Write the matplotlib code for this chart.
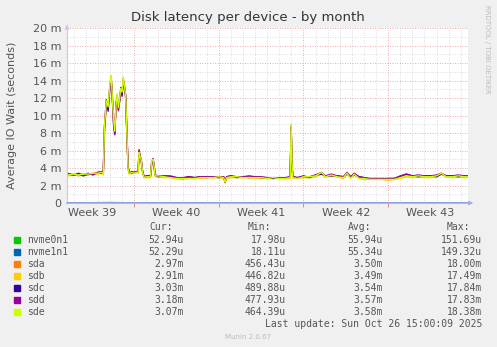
import matplotlib
matplotlib.use("Agg")
import matplotlib.pyplot as plt
from matplotlib.ticker import FixedLocator

# time in days relative to Mon Sep 29 2025 00:00, values in milliseconds
days = [-5.5, -5.0, -4.6, -4.2, -3.8, -3.4, -3.0, -2.7, -2.55, -2.45,
        -2.3, -2.15, -2.0, -1.9, -1.8, -1.7, -1.6, -1.5, -1.4, -1.3,
        -1.2, -1.1, -1.0, -0.9, -0.8, -0.7, -0.6, -0.5, -0.4, -0.2,
        0.0, 0.2, 0.33, 0.41, 0.5, 0.58, 0.7, 0.83, 1.0, 1.2,
        1.35, 1.45, 1.57, 1.65, 1.74, 2.0, 2.5, 3.0, 3.5, 4.0,
        4.5, 5.0, 5.5, 6.0, 6.5, 7.0, 7.4, 7.52, 7.65, 8.0,
        8.5, 9.0, 9.5, 10.0, 10.5, 11.0, 11.5, 12.0, 12.5, 12.9,
        12.98, 13.05, 13.12, 13.5, 14.0, 14.5, 15.0, 15.5, 15.8, 16.3,
        16.8, 17.3, 17.6, 17.9, 18.2, 18.6, 19.0, 19.5, 20.0, 20.5,
        21.0, 21.5, 22.0, 22.5, 23.0, 23.5, 24.0, 24.5, 25.0, 25.4,
        25.8, 26.3, 26.8, 27.3, 27.6]

sda = [3.2, 3.3, 3.1, 3.3, 3.2, 3.4, 3.4, 3.5, 3.3, 8.5,
       11.5, 10.8, 13.5, 14.5, 12.0, 9.5, 8.0, 11.0, 12.4, 10.5,
       11.8, 13.0, 12.5, 14.3, 13.2, 12.2, 8.0, 4.0, 3.4, 3.5,
       3.4, 3.6, 3.5, 6.0, 5.2, 5.0, 3.5, 2.9, 3.0, 3.0,
       3.0, 4.6, 5.0, 4.2, 3.1, 3.1, 3.0, 3.0, 2.8, 2.8,
       2.9, 2.8, 2.9, 3.0, 2.9, 3.0, 2.9, 2.3, 2.9, 3.0,
       3.0, 2.9, 3.0, 2.9, 2.9, 2.8, 2.9, 2.8, 2.9, 2.9,
       8.9, 4.5, 2.9, 2.8, 3.0, 3.0, 3.1, 3.4, 3.0, 3.2,
       3.0, 2.9, 3.4, 2.9, 3.3, 2.9, 2.8, 2.8, 2.7, 2.8,
       2.7, 2.7, 2.9, 3.1, 3.0, 3.1, 3.0, 3.0, 3.1, 3.4,
       3.0, 3.0, 3.1, 3.0, 3.1]

sdb = [3.1, 3.2, 3.2, 3.2, 3.3, 3.3, 3.3, 3.4, 3.2, 8.0,
       11.0, 11.2, 13.0, 14.0, 12.4, 10.0, 8.5, 10.6, 12.0, 11.0,
       11.5, 12.6, 12.9, 13.8, 13.5, 12.0, 7.5, 3.8, 3.3, 3.4,
       3.4, 3.5, 3.4, 5.7, 5.0, 4.8, 3.4, 2.9, 2.9, 2.9,
       2.9, 4.4, 4.8, 4.0, 3.0, 3.0, 2.9, 2.9, 2.8, 2.7,
       2.8, 2.8, 2.8, 2.9, 2.9, 2.9, 2.8, 2.4, 2.8, 2.9,
       2.9, 2.9, 2.9, 2.8, 2.8, 2.8, 2.8, 2.8, 2.8, 2.8,
       8.5, 4.2, 2.9, 2.8, 2.9, 2.9, 3.0, 3.3, 3.0, 3.1,
       3.0, 2.8, 3.3, 2.9, 3.2, 2.8, 2.7, 2.7, 2.7, 2.7,
       2.6, 2.7, 2.8, 3.0, 2.9, 3.0, 2.9, 2.9, 3.0, 3.3,
       3.0, 2.9, 3.0, 2.9, 3.0]

sdc = [3.3, 3.2, 3.3, 3.1, 3.3, 3.3, 3.5, 3.4, 3.4, 8.8,
       11.8, 10.5, 13.2, 14.2, 11.8, 9.2, 7.9, 11.3, 12.1, 10.8,
       11.6, 13.2, 12.2, 14.0, 13.0, 12.4, 8.2, 4.1, 3.5, 3.4,
       3.5, 3.5, 3.6, 5.9, 5.3, 4.9, 3.6, 3.0, 3.1, 3.1,
       3.1, 4.5, 4.9, 4.3, 3.2, 3.0, 3.1, 3.0, 2.9, 2.8,
       3.0, 2.9, 3.0, 2.9, 3.0, 2.9, 3.0, 2.4, 3.0, 3.1,
       2.9, 3.0, 2.9, 3.0, 2.9, 2.9, 2.8, 2.9, 2.8, 3.0,
       8.7, 4.4, 3.0, 2.9, 3.1, 2.9, 3.2, 3.3, 3.1, 3.1,
       3.1, 3.0, 3.3, 3.0, 3.2, 3.0, 2.9, 2.7, 2.8, 2.7,
       2.8, 2.8, 3.0, 3.3, 3.1, 3.0, 3.1, 3.1, 3.0, 3.3,
       3.1, 3.1, 3.0, 3.1, 3.0]

sdd = [3.4, 3.2, 3.4, 3.2, 3.4, 3.2, 3.5, 3.6, 3.4, 8.6,
       11.2, 11.0, 13.4, 14.3, 12.2, 9.0, 7.8, 11.2, 12.3, 10.6,
       11.9, 12.8, 12.6, 14.1, 13.4, 12.0, 7.8, 4.2, 3.4, 3.6,
       3.5, 3.6, 3.5, 6.1, 5.1, 5.1, 3.6, 3.0, 3.0, 3.1,
       3.0, 4.7, 5.1, 4.1, 3.2, 3.1, 3.1, 3.1, 2.9, 2.9,
       3.0, 2.9, 3.0, 3.0, 3.0, 3.0, 3.0, 2.5, 3.0, 3.1,
       3.0, 3.0, 3.1, 3.0, 3.0, 2.9, 2.9, 2.9, 2.9, 3.0,
       8.6, 4.3, 3.0, 2.9, 3.0, 3.0, 3.2, 3.5, 3.1, 3.3,
       3.1, 3.0, 3.5, 3.0, 3.4, 3.0, 2.9, 2.8, 2.8, 2.8,
       2.8, 2.8, 3.1, 3.3, 3.1, 3.2, 3.1, 3.1, 3.2, 3.4,
       3.1, 3.1, 3.2, 3.1, 3.1]

sde = [3.2, 3.3, 3.2, 3.3, 3.3, 3.4, 3.4, 3.5, 3.3, 8.9,
       11.7, 11.0, 13.7, 14.6, 12.1, 9.6, 8.2, 11.1, 12.5, 10.9,
       12.0, 13.1, 12.7, 14.4, 13.3, 12.3, 8.1, 3.9, 3.3, 3.5,
       3.4, 3.5, 3.5, 5.8, 5.2, 5.0, 3.5, 2.9, 3.0, 3.0,
       3.0, 4.8, 5.0, 4.2, 3.1, 3.1, 3.0, 2.9, 2.8, 2.8,
       2.8, 2.8, 2.9, 2.9, 2.9, 3.0, 2.9, 2.4, 2.9, 3.0,
       3.0, 2.9, 2.9, 2.9, 2.9, 2.8, 2.9, 2.8, 2.8, 2.9,
       9.0, 4.6, 2.9, 2.8, 3.0, 3.0, 3.1, 3.5, 3.0, 3.2,
       3.0, 2.9, 3.4, 2.8, 3.3, 2.8, 2.8, 2.7, 2.7, 2.7,
       2.7, 2.7, 2.9, 3.1, 3.0, 3.1, 3.0, 3.0, 3.1, 3.4,
       3.0, 3.0, 3.1, 3.0, 3.0]

nvme_days = [-5.5, -2.0, 2.0, 7.0, 13.0, 20.0, 27.6]
nvme0n1 = [0.06, 0.09, 0.05, 0.05, 0.06, 0.05, 0.05]
nvme1n1 = [0.05, 0.08, 0.05, 0.06, 0.05, 0.05, 0.05]

names = ["nvme0n1", "nvme1n1", "sda", "sdb", "sdc", "sdd", "sde"]
colors = ["#00CC00", "#0066B3", "#FF8000", "#FFCC00", "#330099", "#990099", "#CCFF00"]
cur = ["52.94u", "52.29u", "2.97m", "2.91m", "3.03m", "3.18m", "3.07m"]
mins = ["17.98u", "18.11u", "456.43u", "446.82u", "489.88u", "477.93u", "464.39u"]
avgs = ["55.94u", "55.34u", "3.50m", "3.49m", "3.54m", "3.57m", "3.58m"]
maxs = ["151.69u", "149.32u", "18.00m", "17.49m", "17.84m", "17.83m", "18.38m"]

week_edges = [0, 7, 14, 21]
week_mids = [-3.5, 3.5, 10.5, 17.5, 24.5]
week_labels = ["Week 39", "Week 40", "Week 41", "Week 42", "Week 43"]

W, H = 497, 347
fig = plt.figure(figsize=(W / 100, H / 100), dpi=100, facecolor="#F0F0F0")
ax = fig.add_axes([67 / W, 1 - 203 / H, (468 - 67) / W, (203 - 28) / H])
ax.set_facecolor("white")

series = [sda, sdb, sdc, sdd, sde]
ax.plot(nvme_days, nvme0n1, color=colors[0], lw=0.5, zorder=1)
ax.plot(nvme_days, nvme1n1, color=colors[1], lw=0.5, zorder=1)
for vals, c in zip(series, colors[2:]):
    ax.plot(days, vals, color=c, lw=1)

ax.set_xlim(-5.55, 27.6)
ax.set_ylim(0, 20)

# grid
for d in range(-5, 28):
    if d in week_edges:
        continue
    ax.axvline(d, color="#D0D0D0", lw=0.6, ls=(0, (1, 2)), zorder=0)
for d in week_edges:
    ax.axvline(d, color="#E09090", lw=0.6, ls=(0, (1, 2)), zorder=0)
for v in range(1, 20, 2):
    ax.axhline(v, color="#D0D0D0", lw=0.6, ls=(0, (1, 2)), zorder=0)
for v in range(2, 21, 2):
    ax.axhline(v, color="#E09090", lw=0.6, ls=(0, (1, 2)), zorder=0)

for s in ["top", "right"]:
    ax.spines[s].set_visible(False)
ax.spines["left"].set_color("#C8C8F0")
ax.spines["bottom"].set_color("#A8A8EC")
ax.spines["left"].set_linewidth(0.8)
ax.spines["bottom"].set_linewidth(1.2)
ax.spines["bottom"].set_zorder(3)

ax.set_yticks(range(0, 21, 2))
ax.set_yticklabels(["0"] + ["%d m" % v for v in range(2, 21, 2)])
ax.tick_params(axis="y", length=0, pad=4, labelsize=8, labelcolor="#555555")

ax.xaxis.set_major_locator(FixedLocator(week_edges))
ax.set_xticklabels([])
ax.tick_params(axis="x", length=3, color="#E09090", direction="out")
for m, lab in zip(week_mids, week_labels):
    ax.text(m, -0.6, lab, ha="center", va="top", fontsize=8, color="#555555")

# axis arrows
ax.annotate("", xy=(0, 1.035), xytext=(0, 0.99), xycoords="axes fraction",
            arrowprops=dict(arrowstyle="-|>", color="#C8C8F0", lw=0.8, mutation_scale=6))
ax.annotate("", xy=(1.02, 0), xytext=(0.99, 0), xycoords="axes fraction",
            arrowprops=dict(arrowstyle="-|>", color="#A8A8EC", lw=0.8, mutation_scale=6))

fig.text(248 / W, 1 - 17 / H, "Disk latency per device - by month", ha="center", va="center",
         fontsize=9.5, color="#333333")
fig.text(12 / W, 1 - 115 / H, "Average IO Wait (seconds)", rotation=90, ha="center", va="center",
         fontsize=8, color="#555555")
fig.text(487 / W, 1 - 5 / H, "RRDTOOL / TOBI OETIKER", rotation=270, ha="center", va="top",
         fontsize=5, color="#BBBBBB")

# legend table
mono = "DejaVu Sans Mono"
fs = 7
fig.text(149 / W, 1 - 227 / H, "Cur:", family=mono, fontsize=fs, color="#555555", va="center")
fig.text(248 / W, 1 - 227 / H, "Min:", family=mono, fontsize=fs, color="#555555", va="center")
fig.text(348 / W, 1 - 227 / H, "Avg:", family=mono, fontsize=fs, color="#555555", va="center")
fig.text(447 / W, 1 - 227 / H, "Max:", family=mono, fontsize=fs, color="#555555", va="center")
for i, n in enumerate(names):
    y = 1 - (240 + i * 12) / H
    fig.patches.append(plt.Rectangle((14 / W, y - 3 / H), 6 / W, 6 / H, color=colors[i],
                                     transform=fig.transFigure, figure=fig))
    fig.text(27 / W, y, n, family=mono, fontsize=fs, color="#555555", va="center")
    fig.text(184 / W, y, cur[i], family=mono, fontsize=fs, color="#555555", va="center", ha="right")
    fig.text(286 / W, y, mins[i], family=mono, fontsize=fs, color="#555555", va="center", ha="right")
    fig.text(383 / W, y, avgs[i], family=mono, fontsize=fs, color="#555555", va="center", ha="right")
    fig.text(482 / W, y, maxs[i], family=mono, fontsize=fs, color="#555555", va="center", ha="right")
fig.text(482 / W, 1 - 324 / H, "Last update: Sun Oct 26 15:00:09 2025", family=mono, fontsize=fs,
         color="#555555", va="center", ha="right")
fig.text(248 / W, 1 - 337 / H, "Munin 2.0.67", fontsize=5, color="#BBBBBB", va="center", ha="center")

fig.savefig("out.png", dpi=100, facecolor=fig.get_facecolor())
